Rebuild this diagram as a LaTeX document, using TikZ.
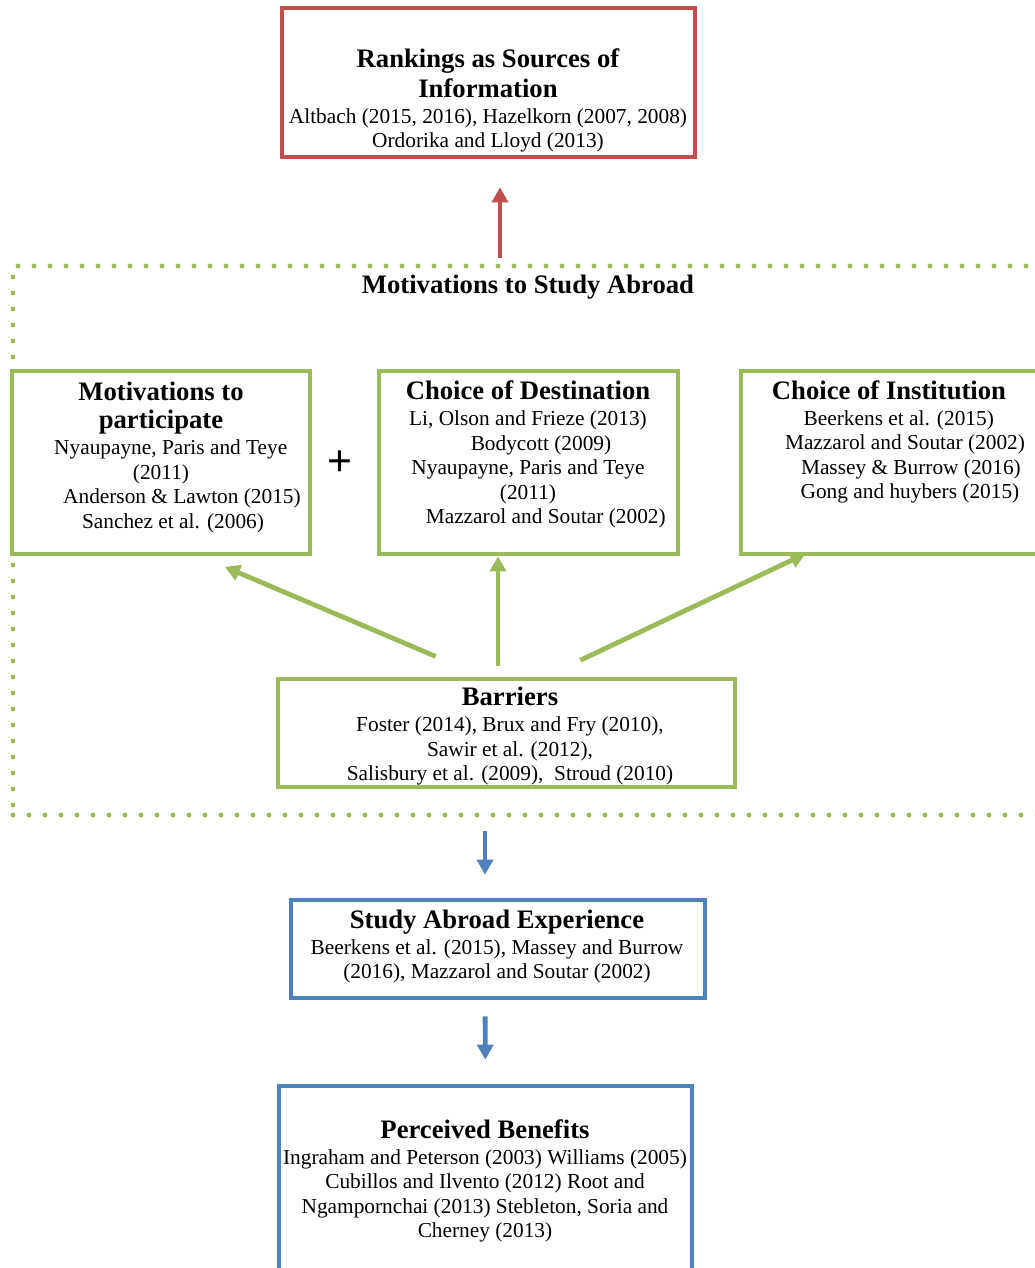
\documentclass[tikz,border=0pt]{standalone}
\usepackage{fontspec}
\setmainfont{Liberation Serif}
\newfontfamily\plusfont{Liberation Sans}
\usetikzlibrary{shapes,arrows.meta}
\definecolor{rankred}{RGB}{192,80,77}
\definecolor{motgreen}{RGB}{155,187,89}
\definecolor{expblue}{RGB}{79,129,189}
\newcommand{\pxu}{0.5625pt}
\tikzset{
	box/.style      = {draw, rectangle, line width = 2.6pt, fill = white},
	txt/.style      = {align = center, font = \fontsize{12}{13.8}\selectfont},
	dotframe/.style = {draw = motgreen, line width = 2.8pt, line cap = round,
		dash pattern = on 0pt off 9pt},
	garrow/.style   = {->, draw = motgreen, line width = 2.7pt},
	barrow/.style   = {->, draw = expblue, line width = 2.7pt},
	rarrow/.style   = {->, draw = rankred, line width = 2.7pt}
}
\newcommand{\ttl}[1]{{\fontsize{15}{17}\selectfont\bfseries #1}}
\newcommand{\pad}[1]{\hspace*{#1pt}}

\begin{document}
\begin{tikzpicture}[x = \pxu, y = -\pxu, >={Triangle[length=8.5pt, width=9pt]}]
\useasboundingbox (0,0) rectangle (1035,1268);
\clip (0,0) rectangle (1035,1268);
\draw
% Drawing the dotted frame and the boxes
node at (529,540.5)[dotframe, minimum width = 1032*\pxu, minimum height = 549*\pxu] (motiv) {}
node at (488.5,82.5)[box, draw = rankred, minimum width = 413*\pxu, minimum height = 149*\pxu] (rank) {}
node at (161,462.5)[box, draw = motgreen, minimum width = 298*\pxu, minimum height = 183*\pxu] (part) {}
node at (528.5,462.5)[box, draw = motgreen, minimum width = 299*\pxu, minimum height = 183*\pxu] (dest) {}
node at (890,462.5)[box, draw = motgreen, minimum width = 298*\pxu, minimum height = 183*\pxu] (inst) {}
node at (506.5,733)[box, draw = motgreen, minimum width = 457*\pxu, minimum height = 108*\pxu] (barr) {}
node at (498,949)[box, draw = expblue, minimum width = 414*\pxu, minimum height = 98*\pxu] (study) {}
node at (485.5,1188)[box, draw = expblue, minimum width = 413*\pxu, minimum height = 204*\pxu] (benef) {};

% Texts
\draw
node at (488,100.5)[txt] (rankT) {\ttl{Rankings as Sources of}\\[2pt]\ttl{Information}\\[0.8pt]
	Altbach (2015, 2016), Hazelkorn (2007, 2008)\\ Ordorika and Lloyd (2013)}
node at (528,287.5)[txt] (motivT) {\ttl{Motivations to Study Abroad}}
node at (161,457.5)[txt] (partT) {\ttl{Motivations to}\\[2pt]\ttl{participate}\\[0.8pt]
	\pad{11}Nyaupayne, Paris and Teye\\ (2011)\\ \pad{23.6}Anderson \& Lawton (2015)\\ \pad{13.5}Sanchez et al. (2006)}
node at (340,463)[font = \plusfont\fontsize{24}{24}\selectfont] (plus) {+}
node at (528,454.5)[txt] (destT) {\ttl{Choice of Destination}\\[0.8pt]
	Li, Olson and Frieze (2013)\\ \pad{14.6}Bodycott (2009)\\ Nyaupayne, Paris and Teye\\ (2011)\\ \pad{20}Mazzarol and Soutar (2002)}
node at (889,442)[txt] (instT) {\ttl{Choice of Institution}\\[0.8pt]
	\pad{11}Beerkens et al. (2015)\\ \pad{18}Mazzarol and Soutar (2002)\\ \pad{24.7}Massey \& Burrow (2016)\\ \pad{23.6}Gong and huybers (2015)}
node at (510,736.5)[txt] (barrT) {\ttl{Barriers}\\[0.8pt]
	Foster (2014), Brux and Fry (2010),\\ Sawir et al. (2012),\\ Salisbury et al. (2009),\ \ Stroud (2010)}
node at (497,946.5)[txt] (studyT) {\ttl{Study Abroad Experience}\\[0.8pt]
	Beerkens et al. (2015), Massey and Burrow\\ (2016), Mazzarol and Soutar (2002)}
node at (485,1181)[txt] (benefT) {\ttl{Perceived Benefits}\\[0.8pt]
	Ingraham and Peterson (2003) Williams (2005)\\ Cubillos and Ilvento (2012) Root and\\
	Ngampornchai (2013) Stebleton, Soria and\\ Cherney (2013)};

% Arrows
\draw[rarrow, shorten <= 6*\pxu, shorten >= 28*\pxu]([xshift = -29*\pxu]motiv.north) -- ([xshift = 11.5*\pxu]rank.south);
\draw[garrow, shorten <= 52*\pxu, shorten >= 27*\pxu]([xshift = -23*\pxu]barr.north) -- ([xshift = 39*\pxu]part.south);
\draw[garrow, shorten <= 11*\pxu]([xshift = -8.5*\pxu]barr.north) -- ([xshift = -30.5*\pxu]dest.south);
\draw[garrow, shorten <= 38.5*\pxu, shorten >= -6*\pxu]([xshift = 39*\pxu]barr.north) -- ([xshift = -90*\pxu]inst.south);
\draw[barrow, shorten <= 13*\pxu, shorten >= 23*\pxu]([xshift = -44*\pxu]motiv.south) -- ([xshift = -13*\pxu]study.north);
\draw[barrow, shorten <= 16*\pxu, shorten >= 24*\pxu]([xshift = -13*\pxu]study.south) -- (benef.north);
\end{tikzpicture}
\end{document}
